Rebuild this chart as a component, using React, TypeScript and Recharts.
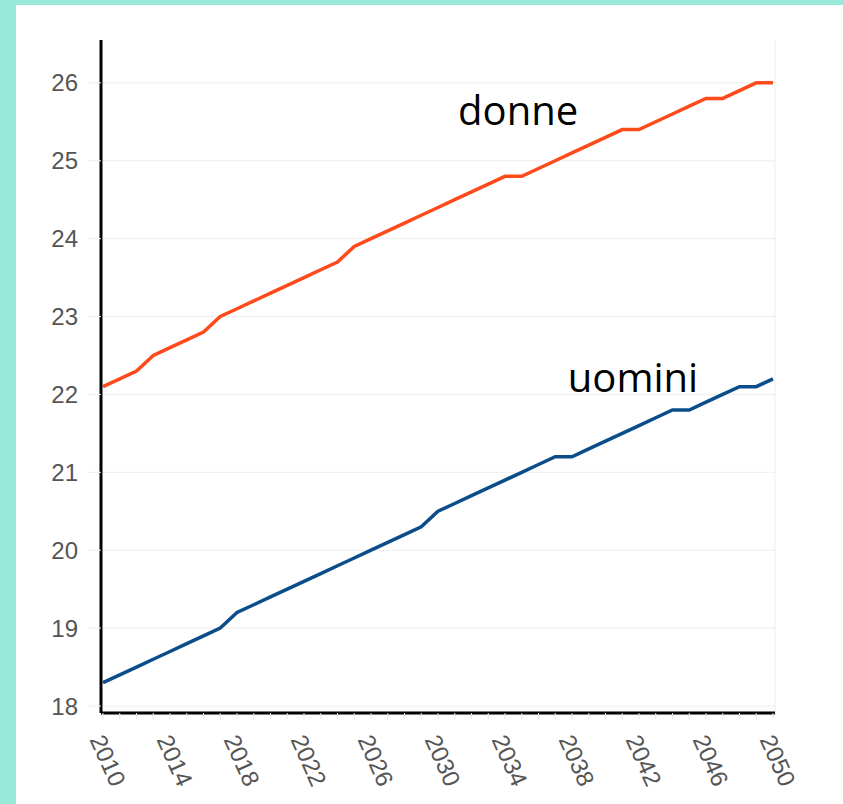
import React from 'react';
import { LineChart, Line, XAxis, YAxis, ReferenceDot, ReferenceLine } from 'recharts';

const years = [2010, 2011, 2012, 2013, 2014, 2015, 2016, 2017, 2018, 2019, 2020, 2021, 2022, 2023, 2024, 2025, 2026, 2027, 2028, 2029, 2030, 2031, 2032, 2033, 2034, 2035, 2036, 2037, 2038, 2039, 2040, 2041, 2042, 2043, 2044, 2045, 2046, 2047, 2048, 2049, 2050];
const donne = [22.1, 22.2, 22.3, 22.5, 22.6, 22.7, 22.8, 23.0, 23.1, 23.2, 23.3, 23.4, 23.5, 23.6, 23.7, 23.9, 24.0, 24.1, 24.2, 24.3, 24.4, 24.5, 24.6, 24.7, 24.8, 24.8, 24.9, 25.0, 25.1, 25.2, 25.3, 25.4, 25.4, 25.5, 25.6, 25.7, 25.8, 25.8, 25.9, 26.0, 26.0];
const uomini = [18.3, 18.4, 18.5, 18.6, 18.7, 18.8, 18.9, 19.0, 19.2, 19.3, 19.4, 19.5, 19.6, 19.7, 19.8, 19.9, 20.0, 20.1, 20.2, 20.3, 20.5, 20.6, 20.7, 20.8, 20.9, 21.0, 21.1, 21.2, 21.2, 21.3, 21.4, 21.5, 21.6, 21.7, 21.8, 21.8, 21.9, 22.0, 22.1, 22.1, 22.2];
const xTickLabels = [2010, 2014, 2018, 2022, 2026, 2030, 2034, 2038, 2042, 2046, 2050];
const yTicks = [18, 19, 20, 21, 22, 23, 24, 25, 26];
const seriesNames = ['donne', 'uomini'];
const labelAnchors = [
  { x: 2031.2, y: 25.46 },
  { x: 2037.75, y: 22.03 },
];

const data = years.map((year, i) => ({ year, donne: donne[i], uomini: uomini[i] }));

const XTick = (props: any) => {
  const { x, y, payload } = props;
  if (!xTickLabels.includes(payload.value)) return null;
  const sx = x - 6;
  return (
    <text
      x={sx}
      y={y}
      transform={`rotate(66, ${sx}, ${y})`}
      textAnchor="start"
      dy="0.35em"
      fill="#555"
      fontSize={24}
      fontFamily="'Liberation Sans', Arial, sans-serif"
    >
      {payload.value}
    </text>
  );
};

const SeriesLabel = (text: string) => (props: any) => {
  const vb = props.viewBox || {};
  return (
    <text
      x={vb.x}
      y={vb.y}
      textAnchor="start"
      fill="#000"
      fontSize={40}
      fontFamily="'Open Sans', 'Noto Sans', sans-serif"
    >
      {text}
    </text>
  );
};

export default function App() {
  return (
    <div style={{ position: 'fixed', left: 0, top: 0, width: 843, height: 804, background: '#fff', overflow: 'hidden' }}>
      <div style={{ position: 'absolute', left: 0, top: 0, width: 843, height: 5, background: '#98EAD8' }} />
      <div style={{ position: 'absolute', left: 0, top: 0, width: 16, height: 804, background: '#98EAD8' }} />
      <div style={{ position: 'absolute', left: 0, top: 0 }}>
        <LineChart width={843} height={804} data={data} margin={{ top: 40, right: 68, bottom: 11, left: 0 }}>
          {yTicks.map((t) => (
            <ReferenceLine key={t} y={t} stroke="#eeeeee" strokeWidth={1} />
          ))}
          <ReferenceLine x={2050.12} stroke="#eeeeee" strokeWidth={1} />
          <XAxis
            dataKey="year"
            type="number"
            domain={[2009.88, 2050.12]}
            ticks={years}
            interval={0}
            height={80}
            axisLine={{ stroke: '#000', strokeWidth: 3 }}
            tickLine={{ stroke: '#e6e6e6', strokeWidth: 1 }}
            tickSize={6}
            tick={<XTick />}
            tickMargin={17}
          />
          <YAxis
            type="number"
            domain={[17.91, 26.55]}
            ticks={yTicks}
            interval={0}
            width={101}
            axisLine={{ stroke: '#000', strokeWidth: 3 }}
            tickLine={{ stroke: '#eeeeee', strokeWidth: 1 }}
            tickSize={14}
            tickMargin={9}
            tick={{ fill: '#555', fontSize: 24, fontFamily: "'Liberation Sans', Arial, sans-serif" }}
          />
          <Line type="linear" dataKey="donne" stroke="#FF4A1C" strokeWidth={3.5} dot={false} isAnimationActive={false} />
          <Line type="linear" dataKey="uomini" stroke="#0B4C8A" strokeWidth={3.5} dot={false} isAnimationActive={false} />
          <ReferenceDot x={labelAnchors[0].x} y={labelAnchors[0].y} r={0} stroke="none" fill="none" label={SeriesLabel(seriesNames[0])} />
          <ReferenceDot x={labelAnchors[1].x} y={labelAnchors[1].y} r={0} stroke="none" fill="none" label={SeriesLabel(seriesNames[1])} />
        </LineChart>
      </div>
    </div>
  );
}
